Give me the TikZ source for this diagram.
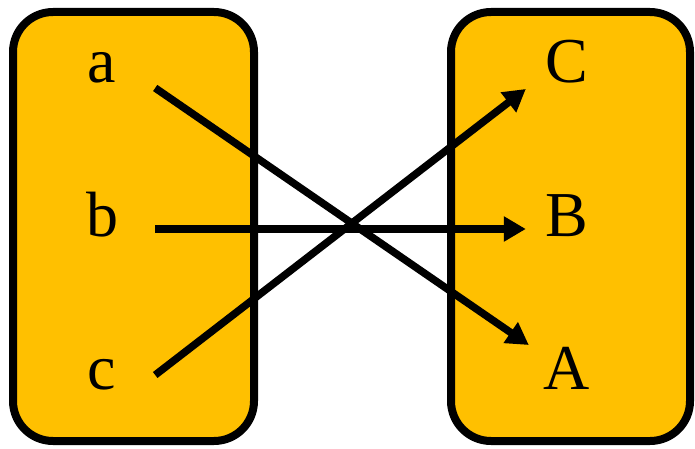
\documentclass[tikz,border=0pt]{standalone}
\usepackage{fontspec}
\setmainfont{Liberation Serif}
\usetikzlibrary{arrows.meta,positioning}
\definecolor{setfill}{HTML}{FFC000}
\tikzset{
setbox/.style={draw,line width=8pt,fill=setfill,rounded corners=40pt},
elem/.style={inner sep=0pt,minimum width=50pt,text height=44pt,text depth=0pt,anchor=base,font=\fontsize{64}{70}\selectfont},
link/.style={-{Triangle[length=22pt,width=24pt]},line width=7.5pt}
}
\begin{document}
\begin{tikzpicture}[x=1pt,y=-1pt]
\useasboundingbox(0,0)rectangle(695,449);
\draw[setbox](13,12)rectangle(254,441);
\draw[setbox](451,12)rectangle(690,441);
\node[elem](a)at(102,83){a};
\node[elem](b)at(102,236){b};
\node[elem](c)at(102,389){c};
\node[elem](C)at(567,83){C};
\node[elem](B)at(567,236){B};
\node[elem](A)at(567,389){A};
\draw[link]([shift={(28,27)}]a.east)--([shift={(-13,-22)}]A.west);
\draw[link]([shift={(28,15)}]b.east)--([shift={(-16,15)}]B.west);
\draw[link]([shift={(28,8)}]c.east)--([shift={(-16,28)}]C.west);
\end{tikzpicture}
\end{document}
